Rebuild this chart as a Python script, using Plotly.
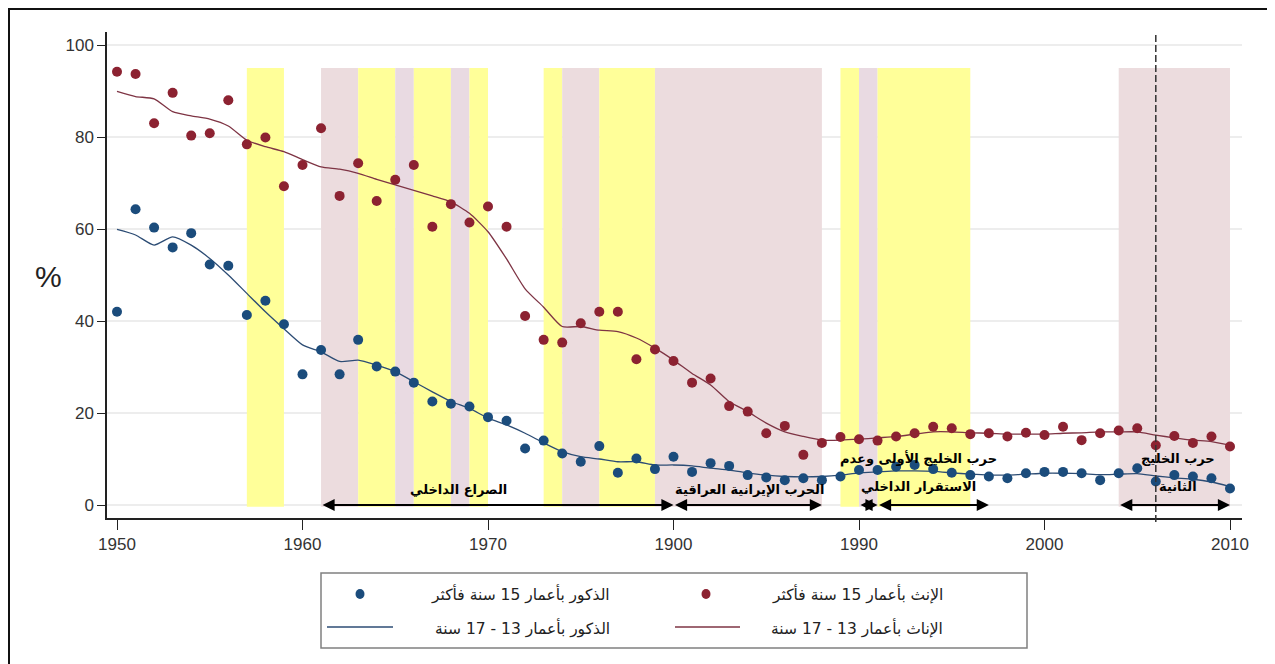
import plotly.graph_objects as go

# ---------------- data ----------------
years = list(range(1950, 2011))

# females 15+ (points)
female_15plus = [94.2, 93.7, 83.0, 89.6, 80.3, 80.8, 88.0, 78.4, 79.9, 69.3,
                 73.9, 81.9, 67.2, 74.3, 66.1, 70.7, 73.9, 60.5, 65.4, 61.4,
                 64.9, 60.5, 41.1, 35.9, 35.3, 39.5, 42.0, 42.0, 31.7, 33.8,
                 31.3, 26.6, 27.5, 21.5, 20.3, 15.6, 17.2, 10.9, 13.5, 14.8,
                 14.3, 14.0, 14.9, 15.6, 17.0, 16.7, 15.4, 15.6, 14.9, 15.7,
                 15.2, 17.0, 14.1, 15.6, 16.2, 16.7, 13.0, 15.0, 13.5, 14.9,
                 12.7]

# males 15+ (points)
male_15plus = [42.0, 64.3, 60.3, 56.0, 59.1, 52.3, 52.0, 41.3, 44.4, 39.3,
               28.4, 33.7, 28.4, 35.9, 30.1, 29.0, 26.6, 22.5, 22.0, 21.4,
               19.1, 18.3, 12.3, 14.0, 11.2, 9.4, 12.8, 7.0, 10.1, 7.8,
               10.5, 7.2, 9.1, 8.5, 6.5, 6.0, 5.4, 5.8, 5.4, 6.2,
               7.6, 7.6, 8.3, 8.7, 7.8, 7.0, 6.5, 6.2, 5.8, 6.9,
               7.2, 7.2, 6.9, 5.4, 6.9, 8.0, 5.1, 6.5, 6.2, 5.8,
               3.6]

# females 13-17 (smoothed line)
female_13_17 = [89.9, 88.8, 88.3, 85.5, 84.6, 83.9, 82.4, 79.3, 77.9, 76.8,
                75.1, 73.5, 73.0, 72.1, 70.8, 69.6, 68.4, 67.2, 65.9, 63.4,
                59.4, 53.5, 47.0, 43.0, 38.8, 38.8, 38.0, 37.7, 36.3, 34.1,
                31.5, 28.6, 26.1, 22.5, 20.3, 17.8, 15.9, 14.9, 14.1, 14.1,
                14.3, 14.6, 14.9, 15.4, 15.9, 15.9, 15.7, 15.6, 15.4, 15.4,
                15.4, 15.6, 15.7, 15.9, 15.9, 15.9, 15.2, 14.6, 14.1, 13.8,
                13.0]

# males 13-17 (smoothed line)
male_13_17 = [59.9, 58.7, 56.5, 58.3, 56.5, 53.6, 50.0, 46.0, 42.0, 38.3,
              34.8, 33.3, 31.2, 31.5, 30.4, 29.0, 26.8, 24.6, 22.5, 21.0,
              18.9, 17.4, 15.6, 13.5, 11.6, 10.5, 10.0, 9.4, 9.4, 8.7,
              8.7, 8.5, 8.0, 7.6, 7.0, 6.5, 6.2, 6.1, 6.2, 6.5,
              7.0, 7.2, 7.4, 7.4, 7.3, 7.0, 6.7, 6.5, 6.5, 6.7,
              6.9, 6.9, 6.8, 6.6, 6.7, 6.8, 6.3, 5.9, 5.6, 5.0,
              4.0]

# shaded periods
shade_start = [1957, 1961, 1963, 1965, 1966, 1968, 1969, 1973, 1974, 1976, 1979, 1989, 1990, 1991, 2004]
shade_end = [1959, 1963, 1965, 1966, 1968, 1969, 1970, 1974, 1976, 1979, 1988, 1990, 1991, 1996, 2010]
shade_kind = ["y", "p", "y", "l", "y", "l", "y", "y", "p", "y", "p", "y", "l", "y", "p"]
shade_top = 95

# event arrows (start, end)
arrow_start = [1961, 1980, 1990, 1991, 2004]
arrow_end = [1980, 1988, 1991, 1997, 2010]

# event labels
label_text = ["الصراع الداخلي", "الحرب الإيرانية العراقية",
              "حرب الخليج الأولى وعدم", "الاستقرار الداخلي",
              "حرب الخليج", "الثانية"]
label_x = [1968.4, 1984.1, 1993.2, 1993.2, 2007.2, 2007.2]
label_y = [3.4, 3.4, 10.2, 4.1, 10.2, 4.1]

marker_year = 2006

x_ticks = [1950, 1960, 1970, 1980, 1990, 2000, 2010]
x_tick_labels = ["1950", "1960", "1970", "1900", "1990", "2000", "2010"]
y_ticks = [0, 20, 40, 60, 80, 100]

legend_labels = ["الذكور بأعمار 15 سنة فأكثر", "الذكور بأعمار 13 - 17 سنة",
                 "الإنث بأعمار 15 سنة فأكثر", "الإناث بأعمار 13 - 17 سنة"]

# ---------------- styling ----------------
RED_DOT = "#8C2231"
BLUE_DOT = "#1B4C7C"
RED_LINE = "#7E3444"
BLUE_LINE = "#2C4C74"
SHADE_COL = {"y": "#FFFF99", "p": "#ECDCDE", "l": "#E9DAE2"}
AR_FONT = "DejaVu Sans"
NUM_FONT = "Liberation Sans, Arial, sans-serif"

# the page body adds an 8px offset; the figure is sized to fit the window
OFF = 8
W, H = 1275 - OFF, 664 - OFF
# plot area in window pixels: x 107..1242, y 32..518
ML = 107 - OFF
MT = 32 - OFF
MR = W - (1242 - OFF)
MB = H - (518 - OFF)
PW, PH = W - ML - MR, H - MT - MB


def px2paper_x(px):
    return (px - OFF - ML) / PW


def px2paper_y(py):
    return (MT + PH - (py - OFF)) / PH


fig = go.Figure()

fig.add_trace(go.Scatter(x=years, y=female_13_17, mode="lines",
                         line=dict(color=RED_LINE, width=1.3, shape="spline", smoothing=0.6),
                         showlegend=False, hoverinfo="skip"))
fig.add_trace(go.Scatter(x=years, y=male_13_17, mode="lines",
                         line=dict(color=BLUE_LINE, width=1.3, shape="spline", smoothing=0.6),
                         showlegend=False, hoverinfo="skip"))
fig.add_trace(go.Scatter(x=years, y=female_15plus, mode="markers",
                         marker=dict(color=RED_DOT, size=10), showlegend=False))
fig.add_trace(go.Scatter(x=years, y=male_15plus, mode="markers",
                         marker=dict(color=BLUE_DOT, size=10), showlegend=False))

shapes = []
for s, e, k in zip(shade_start, shade_end, shade_kind):
    shapes.append(dict(type="rect", xref="x", yref="y", x0=s, x1=e, y0=-0.4, y1=shade_top,
                       fillcolor=SHADE_COL[k], line=dict(width=0), layer="between"))

shapes.append(dict(type="line", xref="x", yref="paper", x0=marker_year, x1=marker_year,
                   y0=px2paper_y(522), y1=px2paper_y(35),
                   line=dict(color="#333333", width=1.5, dash="7px,3px"), layer="above"))

# outer frame
shapes.append(dict(type="rect", xref="paper", yref="paper",
                   x0=px2paper_x(9), x1=px2paper_x(1271), y0=px2paper_y(672), y1=px2paper_y(9),
                   line=dict(color="#111111", width=2), fillcolor="rgba(0,0,0,0)", layer="above"))

# legend box
shapes.append(dict(type="rect", xref="paper", yref="paper",
                   x0=px2paper_x(321), x1=px2paper_x(1027), y0=px2paper_y(648), y1=px2paper_y(573),
                   line=dict(color="#808080", width=1.5), fillcolor="rgba(0,0,0,0)"))
# legend glyphs
r = 4.5
for cx, col in [(360, BLUE_DOT), (706, RED_DOT)]:
    shapes.append(dict(type="circle", xref="paper", yref="paper",
                       x0=px2paper_x(cx - r), x1=px2paper_x(cx + r),
                       y0=px2paper_y(594 + r + 0.5), y1=px2paper_y(594 - r - 0.5),
                       fillcolor=col, line=dict(width=0)))
for x0, x1, col in [(327, 393, BLUE_LINE), (675, 740, RED_LINE)]:
    shapes.append(dict(type="line", xref="paper", yref="paper",
                       x0=px2paper_x(x0), x1=px2paper_x(x1), y0=px2paper_y(627), y1=px2paper_y(627),
                       line=dict(color=col, width=1.5)))

annotations = []
for s, e in zip(arrow_start, arrow_end):
    annotations.append(dict(x=e, y=0, ax=s, ay=0, xref="x", yref="y", axref="x", ayref="y",
                            text="", showarrow=True, arrowside="end+start", arrowhead=2,
                            arrowsize=1.1, arrowwidth=2.2, arrowcolor="#000000", standoff=0,
                            startstandoff=0))
for t, lx, ly in zip(label_text, label_x, label_y):
    annotations.append(dict(x=lx, y=ly, xref="x", yref="y", text="<b>%s</b>" % t,
                            showarrow=False, font=dict(family=AR_FONT, size=13, color="#000000"),
                            xanchor="center", yanchor="middle"))

annotations.append(dict(x=px2paper_x(48), y=px2paper_y(276), xref="paper", yref="paper",
                        text="%", showarrow=False, font=dict(family=NUM_FONT, size=30, color="#222222"),
                        xanchor="center", yanchor="middle"))

for txt, rx, ry in [(legend_labels[0], 612, 594), (legend_labels[1], 612, 628),
                    (legend_labels[2], 945, 594), (legend_labels[3], 945, 628)]:
    annotations.append(dict(x=px2paper_x(rx), y=px2paper_y(ry), xref="paper", yref="paper",
                            text=txt, showarrow=False, xanchor="right", yanchor="middle",
                            font=dict(family=AR_FONT, size=15.5, color="#222222")))

px_per_year = (1230 - 117) / 60
x_min = 1950 - (117 - 107) / px_per_year
x_max = x_min + PW / px_per_year
px_per_unit = (505 - 45) / 100
y_min = -(518 - 505) / px_per_unit
y_max = y_min + PH / px_per_unit

fig.update_layout(
    width=W, height=H,
    margin=dict(l=ML, r=MR, t=MT, b=MB),
    paper_bgcolor="white", plot_bgcolor="white",
    shapes=shapes, annotations=annotations,
    showlegend=False,
    xaxis=dict(range=[x_min, x_max], tickvals=x_ticks, ticktext=x_tick_labels,
               showgrid=False, zeroline=False, showline=True, linecolor="#222222", linewidth=1.5,
               ticks="outside", ticklen=10, tickwidth=1.2, tickcolor="#222222",
               tickfont=dict(family=NUM_FONT, size=17, color="#333333")),
    yaxis=dict(range=[y_min, y_max], tickvals=y_ticks,
               showgrid=True, gridcolor="#EDEDED", gridwidth=2, zeroline=False,
               showline=True, linecolor="#222222", linewidth=1.5,
               ticks="outside", ticklen=8, tickwidth=1.2, tickcolor="#222222",
               tickfont=dict(family=NUM_FONT, size=17, color="#333333")),
)

fig.write_html("out.html")
